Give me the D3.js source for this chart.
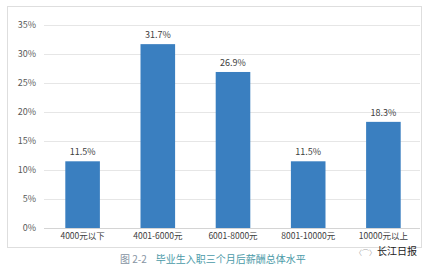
<!DOCTYPE html>
<html>
<head>
<meta charset="utf-8">
<script src="https://cdn.jsdelivr.net/npm/d3@7"></script>
<style>
  html, body { margin: 0; padding: 0; background: #fff; }
  svg { display: block; font-family: "Noto Sans CJK SC", "Noto Sans", sans-serif; }
</style>
</head>
<body>
<svg id="chart" width="430" height="270"></svg>
<script>
// salary bands and share of graduates (%)
const categories = ["4000元以下", "4001-6000元", "6001-8000元", "8001-10000元", "10000元以上"];
const shares = [11.5, 31.7, 26.9, 11.5, 18.3];
const yTicks = [0, 5, 10, 15, 20, 25, 30, 35];
const figureNo = "图 2-2";
const captionText = "毕业生入职三个月后薪酬总体水平";
const watermark = "长江日报";

const svg = d3.select("#chart");

// frame around the chart
svg.append("rect")
  .attr("x", 7.5).attr("y", 6.5)
  .attr("width", 414).attr("height", 241)
  .attr("fill", "#fff")
  .attr("stroke", "#dedede");

const x = d3.scaleBand()
  .domain(categories)
  .range([45, 421])
  .paddingInner(0.54)
  .paddingOuter(0.27);

const y = d3.scaleLinear()
  .domain([0, 35])
  .range([228, 25]);

// gridlines
svg.append("g")
  .selectAll("line")
  .data(yTicks)
  .enter()
  .append("line")
  .attr("x1", 44).attr("x2", 420)
  .attr("y1", d => Math.round(y(d)) + 0.5)
  .attr("y2", d => Math.round(y(d)) + 0.5)
  .attr("stroke", d => d === 0 ? "#d4d4d4" : "#e6e6e6");

// y axis labels
const yAxis = d3.axisLeft(y)
  .tickValues(yTicks)
  .tickSize(0)
  .tickPadding(0)
  .tickFormat(d => d + "%");

svg.append("g")
  .attr("transform", "translate(36,0)")
  .call(yAxis)
  .call(g => g.select(".domain").remove())
  .call(g => g.selectAll("text")
    .attr("font-size", "9px")
    .attr("fill", "#595959")
    .attr("font-family", "'Noto Sans CJK SC', sans-serif"));

// bars
svg.append("g")
  .selectAll("rect")
  .data(shares)
  .enter()
  .append("rect")
  .attr("x", (d, i) => x(categories[i]))
  .attr("y", d => y(d))
  .attr("width", x.bandwidth())
  .attr("height", d => y(0) - y(d))
  .attr("fill", "#3a7fc0");

// value labels
svg.append("g")
  .selectAll("text")
  .data(shares)
  .enter()
  .append("text")
  .attr("x", (d, i) => x(categories[i]) + x.bandwidth() / 2)
  .attr("y", d => y(d) - 6)
  .attr("text-anchor", "middle")
  .attr("font-size", "9px")
  .attr("fill", "#404040")
  .text(d => d.toFixed(1) + "%");

// x axis labels
const xAxis = d3.axisBottom(x).tickSize(0).tickPadding(5);

svg.append("g")
  .attr("transform", `translate(0,${y(0)})`)
  .call(xAxis)
  .call(g => g.select(".domain").remove())
  .call(g => g.selectAll("text")
    .attr("font-size", "8.5px")
    .attr("fill", "#404040")
    .attr("font-family", "'Noto Sans CJK SC', sans-serif"));

// caption below the frame
const caption = svg.append("text")
  .attr("x", 120)
  .attr("y", 263)
  .attr("font-size", "10px");

caption.append("tspan")
  .attr("fill", "#8795a3")
  .text(figureNo);

caption.append("tspan")
  .attr("dx", 9)
  .attr("fill", "#4a9aa8")
  .text(captionText);

// watermark
svg.append("text")
  .attr("x", 377)
  .attr("y", 255)
  .attr("font-size", "10px")
  .attr("fill", "#222")
  .text(watermark);

svg.append("text")
  .attr("x", 355)
  .attr("y", 255)
  .attr("font-size", "7px")
  .attr("fill", "#aaa")
  .text("〈⌒〉");
</script>
</body>
</html>
